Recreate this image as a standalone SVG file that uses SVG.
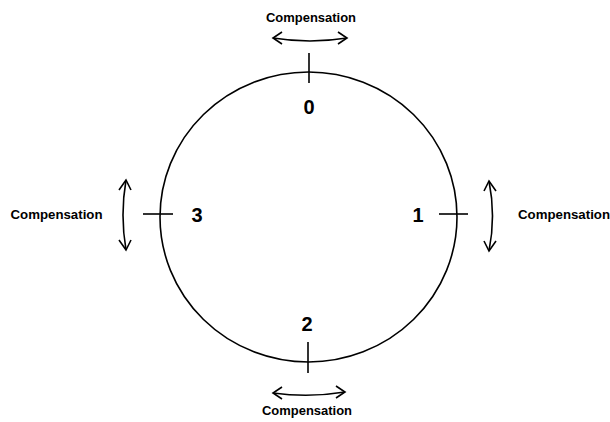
<svg xmlns="http://www.w3.org/2000/svg" width="610" height="422" viewBox="0 0 610 422">
<style>
.ln{fill:none;stroke:#000;stroke-width:1.6}
.lbl{font-family:"Liberation Sans",Arial,sans-serif;font-size:12.5px;font-weight:bold;fill:#000}
.num{font-family:"Liberation Sans",Arial,sans-serif;font-size:20px;font-weight:bold;fill:#000}
</style>
<rect width="610" height="422" fill="#fff"/>
<g id="circle"><ellipse class="ln" cx="308.5" cy="217" rx="148.5" ry="145"/></g>
<g id="connectors">
<line class="ln" x1="309" y1="53" x2="309" y2="83"/>
<line class="ln" x1="308" y1="342" x2="308" y2="373"/>
<line class="ln" x1="143" y1="214" x2="173" y2="214"/>
<line class="ln" x1="439" y1="214" x2="468" y2="214"/>
</g>
<g id="comp-top">
<path class="ln" d="M273 38 Q310 44 347 38"/>
<path class="ln" d="M282 32 L273 38 L282 44"/>
<path class="ln" d="M338 32 L347 38 L338 44"/>
<text class="lbl" x="311" y="22" text-anchor="middle" textLength="90" lengthAdjust="spacingAndGlyphs">Compensation</text>
</g>
<g id="comp-bottom">
<path class="ln" d="M273 393 Q309 398 345 392"/>
<path class="ln" d="M282 387 L273 393 L282 399"/>
<path class="ln" d="M336 386 L345 392 L336 398"/>
<text class="lbl" x="307" y="415" text-anchor="middle" textLength="90" lengthAdjust="spacingAndGlyphs">Compensation</text>
</g>
<g id="comp-left">
<path class="ln" d="M126 180 Q120 215 126 250"/>
<path class="ln" d="M119 190 L126 180 L131 190"/>
<path class="ln" d="M119 240 L126 250 L131 240"/>
<text class="lbl" x="56.5" y="219" text-anchor="middle" textLength="92" lengthAdjust="spacingAndGlyphs">Compensation</text>
</g>
<g id="comp-right">
<path class="ln" d="M489 181 Q496 216 489 251"/>
<path class="ln" d="M484 191 L489 181 L496 191"/>
<path class="ln" d="M484 241 L489 251 L496 241"/>
<text class="lbl" x="564" y="219" text-anchor="middle" textLength="92" lengthAdjust="spacingAndGlyphs">Compensation</text>
</g>
<g id="n0"><text class="num" x="309" y="114" text-anchor="middle">0</text></g>
<g id="n1"><text class="num" x="418" y="222" text-anchor="middle">1</text></g>
<g id="n2"><text class="num" x="307" y="331" text-anchor="middle">2</text></g>
<g id="n3"><text class="num" x="197" y="222" text-anchor="middle">3</text></g>
</svg>
